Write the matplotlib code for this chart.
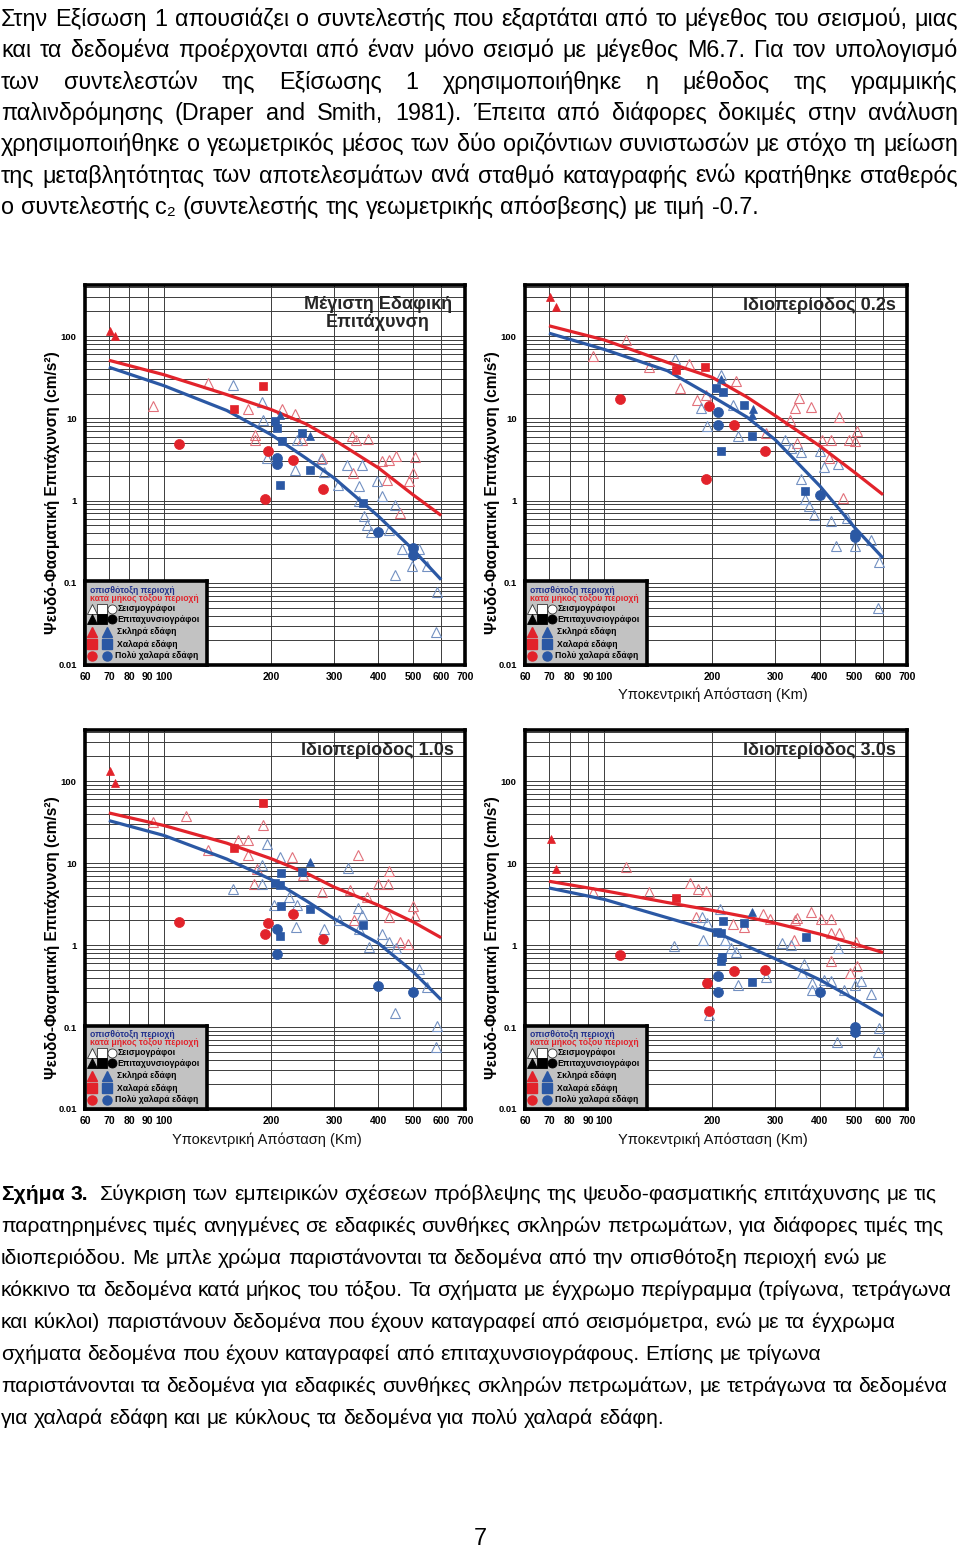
import matplotlib
matplotlib.use('Agg')
import matplotlib.pyplot as plt
from matplotlib.ticker import FixedLocator, FixedFormatter, LogLocator, NullFormatter

plt.rcParams['font.family'] = ['Liberation Sans', 'DejaVu Sans']

W, H = 960, 1550

# ---------------- page text ----------------
paragraph = [
    "Στην Εξίσωση 1 απουσιάζει ο συντελεστής που εξαρτάται από το μέγεθος του σεισμού, μιας",
    "και τα δεδομένα προέρχονται από έναν μόνο σεισμό με μέγεθος Μ6.7. Για τον υπολογισμό",
    "των συντελεστών της Εξίσωσης 1 χρησιμοποιήθηκε η μέθοδος της γραμμικής",
    "παλινδρόμησης (Draper and Smith, 1981). Έπειτα από διάφορες δοκιμές στην ανάλυση",
    "χρησιμοποιήθηκε ο γεωμετρικός μέσος των δύο οριζόντιων συνιστωσών με στόχο τη μείωση",
    "της μεταβλητότητας των αποτελεσμάτων ανά σταθμό καταγραφής ενώ κρατήθηκε σταθερός",
    "ο συντελεστής c₂ (συντελεστής της γεωμετρικής απόσβεσης) με τιμή -0.7.",
]
caption_head = "Σχήμα 3."
caption = [
    "Σύγκριση των εμπειρικών σχέσεων πρόβλεψης της ψευδο-φασματικής επιτάχυνσης με τις",
    "παρατηρημένες τιμές ανηγμένες σε εδαφικές συνθήκες σκληρών πετρωμάτων, για διάφορες τιμές της",
    "ιδιοπεριόδου. Με μπλε χρώμα παριστάνονται τα δεδομένα από την οπισθότοξη περιοχή ενώ με",
    "κόκκινο τα δεδομένα κατά μήκος του τόξου. Τα σχήματα με έγχρωμο περίγραμμα (τρίγωνα, τετράγωνα",
    "και κύκλοι) παριστάνουν δεδομένα που έχουν καταγραφεί από σεισμόμετρα, ενώ με τα έγχρωμα",
    "σχήματα δεδομένα που έχουν καταγραφεί από επιταχυνσιογράφους. Επίσης με τρίγωνα",
    "παριστάνονται τα δεδομένα για εδαφικές συνθήκες σκληρών πετρωμάτων, με τετράγωνα τα δεδομένα",
    "για χαλαρά εδάφη και με κύκλους τα δεδομένα για πολύ χαλαρά εδάφη.",
]
page_number = "7"

# ---------------- chart data ----------------
x_ticks = [60, 70, 80, 90, 100, 200, 300, 400, 500, 600, 700]
y_ticks = [0.01, 0.1, 1, 10, 100]
y_ticklabels = ['0.01', '0.1', '1', '10', '100']

dist_curve = [70, 100, 150, 200, 250, 300, 400, 500, 600]

# PGA
pga_red_curve = [51, 34, 19.5, 12.8, 8.6, 5.5, 2.5, 1.18, 0.66]
pga_blue_curve = [42, 25, 12.5, 6.35, 3.3, 1.89, 0.645, 0.254, 0.109]
pga_red_open = [(93, 14.3), (133, 27), (172, 13.1), (180, 6.35), (180, 5.5), (214, 13.1),
                (233, 11.4), (244, 5.5), (278, 3.3), (337, 6.06), (345, 5.5), (374, 5.6),
                (340, 2.17), (410, 3.0), (428, 3.15), (449, 3.46), (424, 1.8), (507, 3.4),
                (501, 2.17), (488, 1.72), (461, 0.71)]
pga_blue_open = [(156, 25.3), (188, 15.8), (190, 9.66), (194, 3.3), (236, 5.5), (233, 2.38),
                 (276, 3.2), (281, 2.21), (308, 1.54), (327, 2.74), (359, 2.74), (352, 1.49),
                 (352, 0.98), (364, 0.645), (372, 0.51), (380, 0.41), (397, 1.72), (410, 1.13),
                 (444, 0.89), (428, 0.44), (467, 0.26), (498, 0.162), (520, 0.26), (444, 0.126),
                 (549, 0.159), (583, 0.077), (580, 0.025)]
pga_red_tri = [(70.6, 115), (73, 100)]
pga_red_sq = [(190, 24.5), (157.5, 13.1)]
pga_red_circ = [(110, 4.9), (196, 3.98), (230, 3.1), (192, 1.06), (280, 1.4)]
pga_blue_tri = [(212, 11.1), (257.5, 6.17)]
pga_blue_sq = [(205, 9.2), (207, 7.65), (214, 5.27), (244, 6.65), (257.5, 2.38), (211, 1.565), (362, 0.94)]
pga_blue_circ = [(207, 3.3), (207, 2.82), (399, 0.416), (501, 0.266), (501, 0.22)]

# T = 0.2 s
sa02_red_curve = [134, 90, 48, 31.6, 18.2, 10.8, 4.6, 2.2, 1.18]
sa02_blue_curve = [109, 69, 38, 18.5, 10.4, 5.5, 1.5, 0.47, 0.2]
sa02_red_open = [(93, 58), (115, 91), (133, 42), (163, 23.5), (172.5, 46), (181, 16.6), (192, 19.4),
                 (233, 28.3), (349, 17.7), (340, 13.4), (377, 13.6), (452, 10.3), (330, 9.66),
                 (283, 6.65), (344, 5.0), (404, 5.5), (430, 5.5), (507, 7.0), (501, 5.37),
                 (482, 5.5), (424, 3.3), (463, 1.08)]
sa02_blue_open = [(157.5, 53.3), (212, 34), (194, 8.0), (186, 13.4), (229, 14.7), (236, 6.06),
                  (320, 5.5), (333, 4.37), (355, 3.9), (400, 4.06), (411, 2.54), (449, 2.79),
                  (355, 1.83), (364, 1.05), (372, 0.85), (385, 0.675), (428, 0.56), (476, 0.615),
                  (444, 0.279), (501, 0.279), (555, 0.335), (585, 0.178), (582, 0.05)]
sa02_red_tri = [(70.6, 300), (73.3, 226)]
sa02_red_sq = [(158, 39.2), (191, 41.8)]
sa02_red_circ = [(110.5, 17.4), (196, 14), (230, 8.24), (280, 4.0), (192, 1.83)]
sa02_blue_tri = [(212, 30.2), (260, 13), (259, 11.1)]
sa02_blue_sq = [(205, 23.4), (214, 20.8), (245, 14.7), (259, 6.17), (212, 4.06), (364, 1.32)]
sa02_blue_circ = [(207, 11.9), (207, 8.4), (399, 1.16), (501, 0.39), (501, 0.36)]

# T = 1.0 s
sa10_red_curve = [40.9, 28.7, 17.5, 11.3, 7.6, 5.1, 3.06, 1.92, 1.23]
sa10_blue_curve = [33, 21.7, 11.2, 6.3, 3.5, 2.1, 1.05, 0.475, 0.215]
sa10_red_open = [(93, 31.5), (115, 37.2), (133, 14.3), (161, 19.2), (172.5, 19.2), (172.5, 12.4),
                 (183, 8.4), (179, 5.6), (190, 29.5), (229, 11.8), (246, 7.2), (278, 4.45),
                 (350, 12.6), (333, 4.73), (428, 7.9), (400, 5.6), (425, 5.6), (372, 3.86),
                 (341, 2.0), (428, 2.17), (501, 2.97), (508, 2.25), (461, 1.1), (485, 1.03)]
sa10_blue_open = [(156, 4.79), (194, 17.2), (189, 9.4), (189, 5.6), (204, 3.06), (224, 3.86),
                  (236, 3.1), (235, 1.67), (281, 1.59), (310, 2.0), (328, 8.7), (350, 2.8),
                  (359, 2.3), (352, 1.56), (376, 0.95), (410, 1.38), (428, 1.1), (449, 0.93),
                  (520, 0.51), (549, 0.31), (444, 0.148), (585, 0.102), (580, 0.057), (211, 11.8)]
sa10_red_tri = [(70.7, 133), (73, 96)]
sa10_red_sq = [(190, 53.5), (157.5, 15.4)]
sa10_red_circ = [(110, 1.92), (196, 1.88), (192, 1.36), (230, 2.42), (280, 1.2)]
sa10_blue_tri = [(257.5, 10.3)]
sa10_blue_sq = [(213, 7.56), (205, 5.71), (212, 5.35), (213, 2.97), (257.5, 2.74), (211, 1.29),
                (362, 1.78), (244, 7.8)]
sa10_blue_circ = [(207, 1.59), (207, 0.78), (399, 0.32), (500, 0.264)]

# T = 3.0 s
sa30_red_curve = [6.0, 4.6, 3.3, 2.65, 2.2, 1.85, 1.36, 1.03, 0.81]
sa30_blue_curve = [4.97, 3.6, 2.15, 1.49, 0.97, 0.68, 0.376, 0.218, 0.137]
sa30_red_open = [(115, 8.94), (93, 4.44), (133, 4.44), (173, 5.7), (182, 4.87), (192, 4.57),
                 (180, 2.21), (229, 1.83), (246, 1.64), (278, 2.38), (290, 2.1), (341, 2.0),
                 (345, 2.15), (377, 2.54), (403, 2.05), (430, 2.05), (428, 1.41), (452, 1.41),
                 (338, 1.15), (428, 0.63), (485, 0.45), (508, 0.56), (505, 1.1)]
sa30_blue_open = [(156, 0.97), (187, 2.21), (194, 1.87), (189, 1.15), (210, 2.79), (217, 1.15),
                  (226, 0.91), (233, 0.83), (236, 0.327), (283, 0.41), (313, 1.05), (331, 1.0),
                  (362, 0.58), (357, 0.45), (380, 0.343), (380, 0.285), (410, 0.376), (430, 0.36),
                  (449, 0.91), (467, 0.28), (501, 0.33), (520, 0.366), (555, 0.255), (585, 0.097),
                  (582, 0.05), (446, 0.066), (196, 0.14)]
sa30_red_tri = [(70.7, 19.8), (73.3, 8.5)]
sa30_red_sq = [(158, 3.76)]
sa30_red_circ = [(110.5, 0.756), (193, 0.342), (196, 0.159), (230, 0.483), (280, 0.497)]
sa30_blue_tri = [(259, 2.54)]
sa30_blue_sq = [(214, 1.96), (245, 1.87), (206, 1.45), (212, 1.39), (213, 0.72), (212, 0.63),
                (259, 0.359), (366, 1.24)]
sa30_blue_circ = [(207, 0.42), (207, 0.271), (399, 0.264), (501, 0.1), (501, 0.087)]

panels = [
    dict(title='Μέγιστη Εδαφική\nΕπιτάχυνση', box=(85, 285, 465, 665), xlabel=None,
         red_curve=pga_red_curve, blue_curve=pga_blue_curve, red_open=pga_red_open, blue_open=pga_blue_open,
         red_tri=pga_red_tri, red_sq=pga_red_sq, red_circ=pga_red_circ,
         blue_tri=pga_blue_tri, blue_sq=pga_blue_sq, blue_circ=pga_blue_circ),
    dict(title='Ιδιοπερίοδος 0.2s', box=(525, 285, 907, 665), xlabel=(713, 695),
         red_curve=sa02_red_curve, blue_curve=sa02_blue_curve, red_open=sa02_red_open, blue_open=sa02_blue_open,
         red_tri=sa02_red_tri, red_sq=sa02_red_sq, red_circ=sa02_red_circ,
         blue_tri=sa02_blue_tri, blue_sq=sa02_blue_sq, blue_circ=sa02_blue_circ),
    dict(title='Ιδιοπερίοδος 1.0s', box=(85, 730, 465, 1109), xlabel=(267, 1140),
         red_curve=sa10_red_curve, blue_curve=sa10_blue_curve, red_open=sa10_red_open, blue_open=sa10_blue_open,
         red_tri=sa10_red_tri, red_sq=sa10_red_sq, red_circ=sa10_red_circ,
         blue_tri=sa10_blue_tri, blue_sq=sa10_blue_sq, blue_circ=sa10_blue_circ),
    dict(title='Ιδιοπερίοδος 3.0s', box=(525, 730, 907, 1109), xlabel=(713, 1140),
         red_curve=sa30_red_curve, blue_curve=sa30_blue_curve, red_open=sa30_red_open, blue_open=sa30_blue_open,
         red_tri=sa30_red_tri, red_sq=sa30_red_sq, red_circ=sa30_red_circ,
         blue_tri=sa30_blue_tri, blue_sq=sa30_blue_sq, blue_circ=sa30_blue_circ),
]

RED = '#e2232b'
BLUE = '#2b58a4'
OPEN_RED = '#e2707a'
OPEN_BLUE = '#7391c2'
NAVY = '#20308c'

PARA_SIZE = 16.8
CAP_SIZE = 15.2

fig = plt.figure(figsize=(W / 100, H / 100), dpi=100)
renderer = fig.canvas.get_renderer()


def fx(x):
    return x / W


def fy(y):
    return 1 - y / H


def put_line(y, text, x0=1, x1=None, size=PARA_SIZE, weight='normal'):
    # draw one line word by word; x1 given -> justified
    words = text.split(' ')
    items = []
    for w in words:
        t = fig.text(fx(x0), fy(y), w, fontsize=size, fontweight=weight, va='baseline', ha='left')
        items.append((t, t.get_window_extent(renderer).width))
    a = fig.text(0, 0, 'a a', fontsize=size)
    b = fig.text(0, 0, 'aa', fontsize=size)
    space = a.get_window_extent(renderer).width - b.get_window_extent(renderer).width
    a.remove()
    b.remove()
    total = sum(w for _, w in items)
    gap = space
    if x1 is not None and len(items) > 1:
        gap = (x1 - x0 - total) / (len(items) - 1)
    x = x0
    for t, w in items:
        t.set_position((fx(x), fy(y)))
        x += w + gap
    return x


for i, line in enumerate(paragraph):
    last = i == len(paragraph) - 1
    put_line(26 + 31.3 * i, line, x1=None if last else 958)

put_line(1200, caption_head, size=CAP_SIZE, weight='bold')
put_line(1200, caption[0], x0=100, size=CAP_SIZE)
for i, line in enumerate(caption[1:], start=1):
    put_line(1200 + 32 * i, line, size=CAP_SIZE)

fig.text(fx(480), fy(1545), page_number, fontsize=PARA_SIZE, ha='center', va='baseline')


def scatter(ax, pts, marker, ms, color, open_=False, z=5):
    xs = [p[0] for p in pts]
    ys = [p[1] for p in pts]
    if open_:
        ax.plot(xs, ys, ls='none', marker=marker, ms=ms, mfc='none', mec=color, mew=0.8, zorder=z)
    else:
        ax.plot(xs, ys, ls='none', marker=marker, ms=ms, mfc=color, mec=color, mew=0.5, zorder=z)


for p in panels:
    l, t, r, b = p['box']
    ax = fig.add_axes([fx(l), fy(b), (r - l) / W, (b - t) / H])
    ax.set_xscale('log')
    ax.set_yscale('log')
    ax.set_xlim(60, 700)
    ax.set_ylim(0.01, 420)
    ax.xaxis.set_major_locator(FixedLocator(x_ticks))
    ax.xaxis.set_major_formatter(FixedFormatter([str(v) for v in x_ticks]))
    ax.xaxis.set_minor_locator(FixedLocator([]))
    ax.yaxis.set_major_locator(FixedLocator(y_ticks))
    ax.yaxis.set_major_formatter(FixedFormatter(y_ticklabels))
    ax.yaxis.set_minor_locator(LogLocator(base=10, subs=range(2, 10)))
    ax.yaxis.set_minor_formatter(NullFormatter())
    ax.tick_params(which='both', length=0)
    ax.tick_params(axis='x', labelsize=7.5, pad=5)
    ax.tick_params(axis='y', labelsize=6.8, pad=6)
    for lbl in ax.get_xticklabels() + ax.get_yticklabels():
        lbl.set_fontweight('bold')
    ax.grid(True, which='both', color='#3c3c3c', lw=0.7)
    ax.set_axisbelow(True)
    for s in ax.spines.values():
        s.set_linewidth(2.6)
        s.set_color('black')

    scatter(ax, p['red_open'], '^', 6.5, OPEN_RED, open_=True, z=3)
    scatter(ax, p['blue_open'], '^', 6.5, OPEN_BLUE, open_=True, z=3)
    ax.plot(dist_curve, p['red_curve'], color=RED, lw=2.3, zorder=4, solid_capstyle='butt')
    ax.plot(dist_curve, p['blue_curve'], color=BLUE, lw=2.3, zorder=4, solid_capstyle='butt')
    scatter(ax, p['red_tri'], '^', 6, RED)
    scatter(ax, p['red_sq'], 's', 5.2, RED)
    scatter(ax, p['red_circ'], 'o', 7.2, RED)
    scatter(ax, p['blue_tri'], '^', 6, BLUE)
    scatter(ax, p['blue_sq'], 's', 5.2, BLUE)
    scatter(ax, p['blue_circ'], 'o', 7.2, BLUE)

    ax.text(0.77, 0.925 if '\n' in p['title'] else 0.947, p['title'], transform=ax.transAxes,
            ha='center', va='center', fontsize=13, fontweight='bold', color='#262626',
            linespacing=1.05, zorder=7)

    # legend box
    lg = ax.inset_axes([0, 0, 0.32, 0.22])
    lg.set_zorder(8)
    lg.set_xlim(0, 1)
    lg.set_ylim(0, 1)
    lg.set_xticks([])
    lg.set_yticks([])
    lg.set_facecolor('#c2c2c2')
    for s in lg.spines.values():
        s.set_linewidth(2.6)
    lg.text(0.04, 0.893, 'οπισθότοξη περιοχή', color=NAVY, fontsize=6.2, fontweight='bold', va='center')
    lg.text(0.04, 0.794, 'κατά μήκος τόξου περιοχή', color=RED, fontsize=6.2, fontweight='bold', va='center')
    for mx, mk in zip([0.055, 0.137, 0.224], ['^', 's', 'o']):
        lg.plot(mx, 0.675, marker=mk, ms=6.5, mfc='white', mec='#333333', mew=0.6)
        lg.plot(mx, 0.548, marker=mk, ms=6.5, mfc='black', mec='black', mew=0.6)
    lg.text(0.268, 0.675, 'Σεισμογράφοι', fontsize=6.2, fontweight='bold', va='center')
    lg.text(0.268, 0.548, 'Επιταχυνσιογράφοι', fontsize=6.2, fontweight='bold', va='center')
    for yy, mk, name, tx in [(0.396, '^', 'Σκληρά εδάφη', 0.26), (0.25, 's', 'Χαλαρά εδάφη', 0.26),
                             (0.11, 'o', 'Πολύ χαλαρά εδάφη', 0.246)]:
        lg.plot(0.06, yy, marker=mk, ms=6.5, mfc=RED, mec=RED)
        lg.plot(0.183, yy, marker=mk, ms=6.5, mfc=BLUE, mec=BLUE)
        lg.text(tx, yy, name, fontsize=6.2, fontweight='bold', va='center')

    # axis labels placed like the scanned page
    fig.text(fx(l - 32), fy((t + b) / 2 + 18), 'Ψευδό-Φασματική Επιτάχυνση (cm/s²)', rotation=90,
             ha='center', va='center', fontsize=11.2, fontweight='bold')
    if p['xlabel'] is not None:
        fig.text(fx(p['xlabel'][0]), fy(p['xlabel'][1]), 'Υποκεντρική Απόσταση (Km)',
                 ha='center', va='center', fontsize=10.5, color='#111111')

fig.savefig('out.png', dpi=100)
